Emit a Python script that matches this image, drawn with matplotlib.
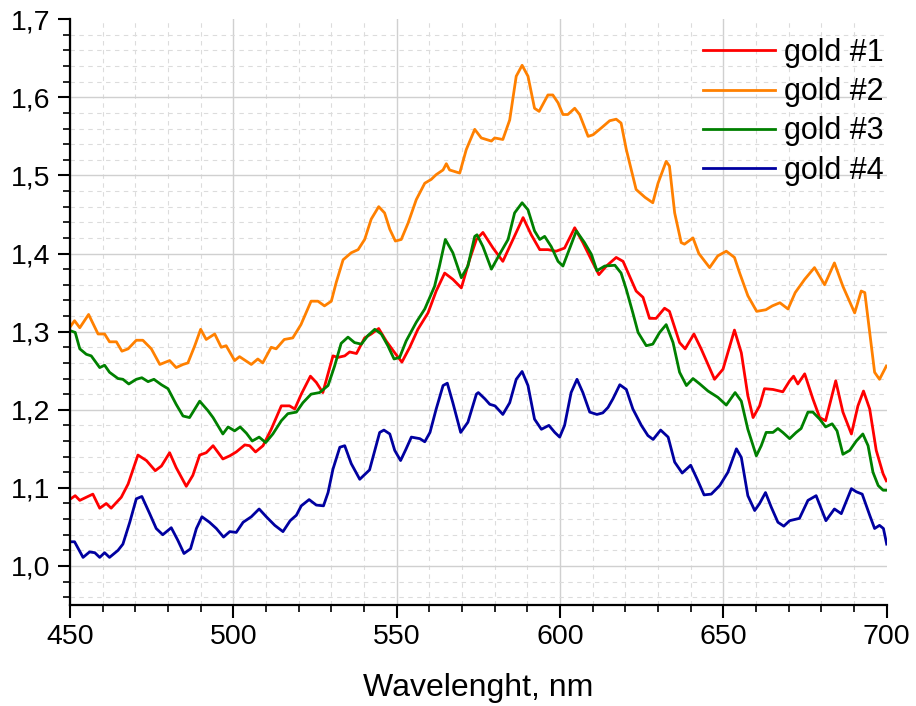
import numpy as np
import matplotlib
matplotlib.use("Agg")
import matplotlib.pyplot as plt
from matplotlib.ticker import MultipleLocator, FuncFormatter

plt.rcParams['font.family'] = ['Liberation Sans', 'DejaVu Sans']

# gold #1 (red)
wl1 = [450.2, 451.6, 453.0, 455.0, 457.0, 459.1, 461.1, 462.6, 465.7, 467.8, 470.8, 473.4, 476.1, 478.0,
       480.5, 482.5, 485.6, 487.6, 489.7, 491.7, 493.8, 496.8, 498.9, 500.9, 503.5, 505.0, 506.8, 509.1,
       511.6, 514.7, 517.2, 518.8, 520.8, 523.6, 525.4, 527.4, 530.5, 532.0, 534.1, 535.6, 537.7, 540.2,
       542.2, 544.5, 546.8, 549.4, 551.6, 554.0, 556.5, 559.6, 562.1, 564.7, 567.2, 569.8, 572.3, 574.4,
       576.4, 579.5, 582.5, 585.6, 588.7, 591.2, 593.8, 596.3, 598.8, 601.4, 604.5, 607.0, 609.6, 611.9,
       614.2, 617.2, 619.3, 621.3, 623.3, 625.4, 627.4, 629.4, 632.0, 633.5, 636.6, 638.3, 641.0, 643.2,
       647.3, 649.9, 653.4, 655.5, 657.5, 659.1, 661.1, 662.6, 665.2, 668.2, 670.3, 671.5, 672.8, 674.9,
       677.4, 679.5, 681.3, 684.4, 686.6, 689.2, 691.2, 692.9, 694.8, 696.8, 698.9, 699.9]
gold1 = [1.086, 1.090, 1.084, 1.088, 1.092, 1.074, 1.080, 1.074, 1.088, 1.105, 1.142, 1.135, 1.122, 1.128,
         1.145, 1.126, 1.102, 1.116, 1.142, 1.145, 1.154, 1.137, 1.141, 1.146, 1.155, 1.154, 1.146, 1.154,
         1.175, 1.205, 1.205, 1.201, 1.220, 1.243, 1.235, 1.222, 1.269, 1.267, 1.269, 1.274, 1.272, 1.292,
         1.297, 1.304, 1.288, 1.273, 1.261, 1.280, 1.303, 1.324, 1.352, 1.375, 1.367, 1.356, 1.392, 1.418,
         1.427, 1.407, 1.390, 1.418, 1.446, 1.424, 1.405, 1.405, 1.403, 1.407, 1.433, 1.414, 1.392, 1.373,
         1.384, 1.395, 1.390, 1.371, 1.352, 1.344, 1.317, 1.317, 1.330, 1.326, 1.286, 1.278, 1.297, 1.278,
         1.239, 1.252, 1.302, 1.273, 1.218, 1.190, 1.205, 1.227, 1.226, 1.223, 1.237, 1.243, 1.233, 1.246,
         1.214, 1.190, 1.186, 1.237, 1.197, 1.169, 1.205, 1.224, 1.201, 1.148, 1.118, 1.109]

# gold #2 (orange)
wl2 = [450.2, 451.4, 453.0, 455.7, 458.6, 460.6, 462.1, 464.2, 465.9, 467.8, 470.3, 472.3, 474.9, 477.5,
       480.5, 482.5, 484.6, 486.1, 488.2, 490.0, 491.7, 494.3, 496.3, 497.8, 500.4, 501.9, 505.5, 507.5,
       509.0, 511.6, 513.1, 515.6, 518.2, 520.7, 523.8, 525.9, 527.9, 530.0, 531.5, 533.6, 536.1, 538.2,
       540.2, 542.2, 544.5, 546.3, 547.9, 549.6, 551.4, 553.5, 556.0, 558.6, 560.6, 562.1, 564.2, 565.2,
       566.2, 569.3, 571.3, 573.9, 575.9, 579.0, 580.0, 582.5, 584.6, 586.6, 588.4, 590.2, 592.2, 593.6,
       596.3, 597.8, 599.4, 600.9, 602.4, 604.5, 606.0, 608.6, 610.1, 612.7, 615.2, 617.2, 618.7, 620.3,
       623.3, 626.0, 628.4, 630.0, 632.5, 633.5, 635.1, 637.1, 638.1, 640.7, 642.5, 645.8, 648.3, 650.9,
       653.4, 655.0, 657.5, 660.2, 663.0, 665.0, 667.3, 669.8, 672.0, 674.9, 677.9, 681.0, 684.0, 686.6,
       688.5, 690.2, 692.2, 693.3, 694.3, 696.3, 697.8, 699.9]
gold2 = [1.307, 1.314, 1.305, 1.322, 1.297, 1.297, 1.287, 1.287, 1.275, 1.278, 1.289, 1.289, 1.278, 1.258,
         1.263, 1.254, 1.258, 1.260, 1.282, 1.303, 1.290, 1.297, 1.280, 1.282, 1.263, 1.268, 1.258, 1.265,
         1.260, 1.280, 1.278, 1.290, 1.292, 1.309, 1.339, 1.339, 1.333, 1.339, 1.363, 1.392, 1.401, 1.405,
         1.418, 1.444, 1.460, 1.452, 1.431, 1.416, 1.418, 1.439, 1.469, 1.490, 1.495, 1.501, 1.507, 1.515,
         1.507, 1.503, 1.533, 1.559, 1.548, 1.544, 1.548, 1.546, 1.571, 1.627, 1.641, 1.627, 1.586, 1.582,
         1.603, 1.603, 1.593, 1.578, 1.578, 1.586, 1.578, 1.550, 1.552, 1.561, 1.570, 1.572, 1.567, 1.533,
         1.482, 1.472, 1.465, 1.490, 1.518, 1.512, 1.452, 1.414, 1.412, 1.420, 1.400, 1.382, 1.397, 1.403,
         1.395, 1.375, 1.346, 1.326, 1.328, 1.333, 1.337, 1.329, 1.350, 1.367, 1.382, 1.360, 1.388, 1.358,
         1.340, 1.324, 1.352, 1.350, 1.316, 1.248, 1.239, 1.256]

# gold #3 (green)
wl3 = [450.2, 451.6, 453.0, 455.0, 456.5, 459.1, 460.6, 462.1, 464.7, 466.2, 468.0, 470.3, 472.0, 473.9,
       475.7, 478.0, 480.0, 482.5, 484.6, 486.6, 489.7, 492.2, 493.8, 496.8, 498.4, 500.4, 502.1, 504.0,
       505.8, 507.9, 509.9, 512.1, 514.7, 516.7, 519.3, 521.3, 523.8, 526.4, 529.0, 531.0, 533.0, 535.1,
       537.1, 539.2, 541.2, 543.3, 545.3, 547.3, 549.2, 550.9, 552.9, 556.0, 558.6, 561.6, 563.1, 564.9,
       567.2, 569.8, 571.8, 573.9, 574.6, 576.4, 579.0, 581.5, 584.1, 586.1, 588.4, 590.2, 592.2, 593.8,
       595.3, 597.3, 599.4, 600.9, 603.0, 605.0, 607.5, 609.6, 611.3, 613.7, 616.8, 618.7, 620.3, 622.3,
       623.9, 626.4, 628.4, 630.5, 632.5, 634.6, 636.6, 638.7, 640.7, 642.8, 645.3, 648.3, 650.9, 653.6,
       655.5, 657.5, 660.1, 661.6, 663.1, 665.2, 666.7, 668.2, 670.3, 672.3, 673.8, 675.9, 677.4, 679.5,
       681.3, 683.3, 684.8, 686.6, 688.7, 690.7, 692.7, 694.3, 695.8, 697.4, 698.9, 699.9]
gold3 = [1.301, 1.299, 1.278, 1.271, 1.269, 1.254, 1.257, 1.248, 1.240, 1.239, 1.233, 1.239, 1.241, 1.236,
         1.239, 1.232, 1.227, 1.207, 1.192, 1.190, 1.211, 1.199, 1.190, 1.169, 1.178, 1.173, 1.178, 1.170,
         1.160, 1.165, 1.158, 1.169, 1.186, 1.195, 1.197, 1.209, 1.220, 1.222, 1.231, 1.256, 1.285, 1.293,
         1.286, 1.284, 1.295, 1.303, 1.297, 1.282, 1.265, 1.267, 1.288, 1.312, 1.329, 1.358, 1.384, 1.418,
         1.401, 1.369, 1.384, 1.422, 1.424, 1.409, 1.380, 1.399, 1.418, 1.452, 1.465, 1.456, 1.429, 1.418,
         1.422, 1.409, 1.390, 1.384, 1.407, 1.429, 1.414, 1.399, 1.378, 1.384, 1.385, 1.375, 1.354, 1.324,
         1.299, 1.282, 1.284, 1.299, 1.309, 1.286, 1.248, 1.231, 1.240, 1.233, 1.224, 1.216, 1.206, 1.222,
         1.211, 1.175, 1.141, 1.154, 1.171, 1.171, 1.176, 1.171, 1.163, 1.171, 1.176, 1.197, 1.197, 1.188,
         1.178, 1.182, 1.173, 1.143, 1.148, 1.160, 1.169, 1.154, 1.120, 1.103, 1.097, 1.097]

# gold #4 (blue)
wl4 = [450.2, 451.4, 454.0, 456.0, 457.6, 459.1, 460.6, 462.1, 464.7, 466.2, 468.3, 470.3, 472.0, 474.4,
       476.4, 478.4, 481.0, 483.0, 484.9, 486.9, 488.7, 490.4, 492.7, 494.8, 497.0, 498.9, 500.9, 503.0,
       505.5, 507.9, 510.1, 512.7, 515.2, 517.4, 519.3, 520.8, 523.2, 525.4, 527.6, 529.0, 530.5, 532.6,
       534.1, 536.1, 538.7, 541.7, 544.8, 546.1, 547.9, 549.4, 551.2, 552.9, 554.5, 557.1, 558.6, 560.2,
       562.1, 564.2, 565.5, 567.2, 569.6, 571.8, 574.4, 575.0, 577.0, 578.5, 580.1, 582.5, 584.6, 586.6,
       588.4, 590.2, 592.2, 594.3, 596.6, 598.4, 599.9, 601.4, 603.4, 605.2, 607.0, 609.1, 611.3, 613.1,
       614.7, 616.2, 618.3, 620.3, 622.3, 624.9, 626.9, 628.5, 630.8, 633.1, 635.1, 637.4, 640.0, 642.0,
       644.1, 646.3, 648.9, 651.4, 654.0, 655.5, 657.5, 659.6, 661.1, 662.9, 664.7, 666.7, 668.5, 670.3,
       673.3, 675.9, 678.4, 681.4, 684.0, 686.1, 689.2, 690.7, 692.5, 694.8, 696.3, 697.8, 699.0, 700.0]
gold4 = [1.031, 1.031, 1.011, 1.018, 1.017, 1.011, 1.017, 1.011, 1.020, 1.028, 1.056, 1.086, 1.089, 1.067,
         1.048, 1.040, 1.049, 1.033, 1.016, 1.022, 1.048, 1.063, 1.056, 1.048, 1.037, 1.044, 1.043, 1.056,
         1.063, 1.073, 1.063, 1.052, 1.044, 1.058, 1.065, 1.077, 1.085, 1.078, 1.077, 1.094, 1.124, 1.152,
         1.154, 1.131, 1.111, 1.123, 1.171, 1.174, 1.169, 1.148, 1.135, 1.150, 1.165, 1.163, 1.159, 1.171,
         1.201, 1.231, 1.234, 1.209, 1.171, 1.184, 1.220, 1.222, 1.214, 1.207, 1.205, 1.194, 1.209, 1.239,
         1.249, 1.231, 1.188, 1.175, 1.180, 1.171, 1.165, 1.180, 1.222, 1.239, 1.222, 1.197, 1.194, 1.196,
         1.203, 1.214, 1.232, 1.226, 1.201, 1.180, 1.167, 1.162, 1.174, 1.165, 1.133, 1.119, 1.129, 1.111,
         1.091, 1.092, 1.103, 1.120, 1.150, 1.139, 1.090, 1.071, 1.080, 1.094, 1.075, 1.056, 1.051, 1.058,
         1.061, 1.084, 1.090, 1.058, 1.073, 1.067, 1.099, 1.095, 1.092, 1.065, 1.048, 1.052, 1.048, 1.028]

labels = ['gold #1', 'gold #2', 'gold #3', 'gold #4']
colors = ['#ff0000', '#ff8000', '#008000', '#0000a0']

fig = plt.figure(figsize=(9.16, 7.06), dpi=100)
ax = fig.add_axes([0.0764, 0.143, 0.8916, 0.8298])

for x, y, lab, c in zip([wl1, wl2, wl3, wl4], [gold1, gold2, gold3, gold4], labels, colors):
    ax.plot(x, y, color=c, lw=2.0, label=lab, solid_joinstyle='round')

ax.set_xlim(450, 700)
ax.set_ylim(0.95, 1.7)
ax.xaxis.set_major_locator(MultipleLocator(50))
ax.xaxis.set_minor_locator(MultipleLocator(10))
ax.yaxis.set_major_locator(MultipleLocator(0.1))
ax.yaxis.set_minor_locator(MultipleLocator(0.02))
ax.yaxis.set_major_formatter(FuncFormatter(lambda v, p: f'{v:.1f}'.replace('.', ',')))
ax.xaxis.set_major_formatter(FuncFormatter(lambda v, p: f'{v:.0f}'))

ax.grid(which='major', color='#d0d0d0', lw=1.0, ls='-')
ax.grid(which='minor', color='#dcdcdc', lw=0.8, ls=(0, (4, 4)))
ax.set_axisbelow(True)

for s in ['top', 'right']:
    ax.spines[s].set_visible(False)
for s in ['left', 'bottom']:
    ax.spines[s].set_linewidth(1.6)

ax.tick_params(which='major', direction='out', length=9, width=1.5, labelsize=20.5, pad=5)
ax.tick_params(which='minor', direction='out', length=5, width=1.2)

ax.set_xlabel('Wavelenght, nm', fontsize=23, labelpad=16)

ax.legend(loc='upper right', bbox_to_anchor=(1.0, 0.973), frameon=False, fontsize=22,
          handlelength=2.35, handletextpad=0.3, labelspacing=0.3, borderaxespad=0.1,
          borderpad=0.0)

fig.canvas.draw()
# no gridlines on the axis end values (top of y, right of x)
for gl, tk in zip(ax.get_ygridlines(), ax.yaxis.get_majorticklocs()):
    if abs(tk - 1.7) < 1e-6:
        gl.set_visible(False)
for gl, tk in zip(ax.get_xgridlines(), ax.xaxis.get_majorticklocs()):
    if abs(tk - 700) < 1e-6:
        gl.set_visible(False)

fig.savefig('out.png', dpi=100)
